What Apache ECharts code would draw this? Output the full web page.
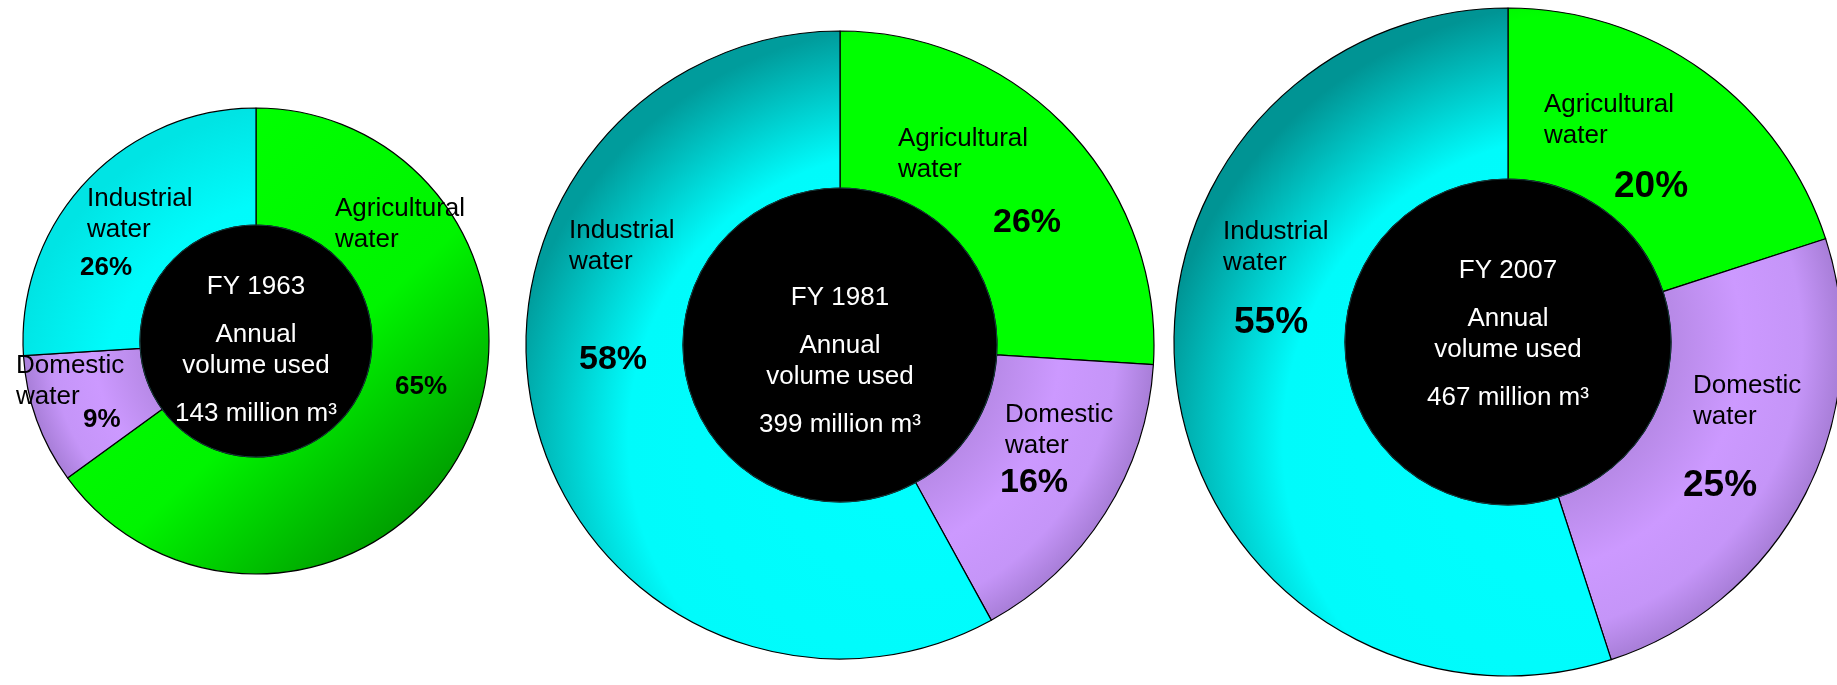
<!DOCTYPE html>
<html><head><meta charset="utf-8">
<script src="https://cdn.jsdelivr.net/npm/echarts@6/dist/echarts.min.js"></script>
<style>html,body{margin:0;padding:0;background:#fff}#c{width:1837px;height:685px}</style>
</head><body><div id="c"></div>
<script>
// ---- data ----
const categories = ['Agricultural water', 'Domestic water', 'Industrial water'];
const years = ['FY 1963', 'FY 1981', 'FY 2007'];
const volumes = [143, 399, 467]; // million m3
const share1963 = [65, 9, 26];
const share1981 = [26, 16, 58];
const share2007 = [20, 25, 55];
const shares = [share1963, share1981, share2007];

// ---- layout (positions / sizes only) ----
const layout = [
  { c: [256, 341], r: [116, 233], pctSize: 26, mid: 350,
    names: [[335, 224], [16, 381], [87, 214]], pcts: [[395, 387], [83, 420], [80, 268]],
    cyanDark: '#00e4e4', greenLinear: true },
  { c: [840, 345], r: [157, 314], pctSize: 34, mid: 361,
    names: [[898, 154], [1005, 430], [569, 246]], pcts: [[993, 223], [1000, 483], [579, 360]],
    cyanDark: '#009c9c', greenLinear: false },
  { c: [1508, 342], r: [163, 334], pctSize: 37, mid: 334,
    names: [[1544, 120], [1693, 401], [1223, 247]], pcts: [[1614, 187], [1683, 486], [1234, 323]],
    cyanDark: '#009494', greenLinear: false }
];

const FONT = '"Liberation Sans", Arial, sans-serif';

function colorsFor(L) {
  const [cx, cy] = L.c, R = L.r[1];
  const green = L.greenLinear
    ? { type: 'linear', global: true, x: cx - 0.3 * R, y: cy - 0.7 * R, x2: cx + R, y2: cy + 0.7 * R,
        colorStops: [{ offset: 0, color: '#00ff00' }, { offset: 0.5, color: '#00f400' }, { offset: 1, color: '#008a00' }] }
    : { type: 'radial', global: true, x: cx + 0.2 * R, y: cy - 0.1 * R, r: 1.1 * R,
        colorStops: [{ offset: 0, color: '#00ff00' }, { offset: 0.8, color: '#00ff00' }, { offset: 1, color: '#00d800' }] };
  const purple = { type: 'radial', global: true, x: cx, y: cy, r: R,
    colorStops: [{ offset: 0, color: '#a57ad8' }, { offset: 0.5, color: '#b88ae8' }, { offset: 0.7, color: '#cc99ff' },
                 { offset: 0.88, color: '#c595f8' }, { offset: 1, color: '#a87ed8' }] };
  const cyan = { type: 'radial', global: true, x: cx + 0.25 * R, y: cy + 0.3 * R, r: 1.32 * R,
    colorStops: [{ offset: 0, color: '#00ffff' }, { offset: 0.7, color: '#00fbfb' }, { offset: 1, color: L.cyanDark }] };
  return [green, purple, cyan];
}

const series = [];
layout.forEach((L, k) => {
  const cols = colorsFor(L);
  const data = categories.map((name, i) => ({ name, value: shares[k][i], itemStyle: { color: cols[i] } }));
  // ring with category names
  series.push({
    type: 'pie', center: L.c, radius: L.r, startAngle: 90, clockwise: true, silent: true,
    avoidLabelOverlap: false, animation: false,
    itemStyle: { borderColor: '#000', borderWidth: 1.2 },
    label: { show: true, position: 'inside', color: '#000', fontFamily: FONT, fontSize: 26, lineHeight: 31,
             formatter: p => p.name.replace(' ', '\n') },
    labelLine: { show: false },
    labelLayout: p => ({ x: L.names[p.dataIndex][0], y: L.names[p.dataIndex][1], align: 'left', verticalAlign: 'middle' }),
    data
  });
  // percentage labels (transparent overlay of the same data)
  series.push({
    type: 'pie', center: L.c, radius: L.r, startAngle: 90, clockwise: true, silent: true,
    avoidLabelOverlap: false, animation: false,
    itemStyle: { color: 'rgba(0,0,0,0)', borderWidth: 0 },
    label: { show: true, position: 'inside', color: '#000', fontFamily: FONT, fontWeight: 'bold', fontSize: L.pctSize,
             formatter: p => p.value + '%' },
    labelLine: { show: false },
    labelLayout: p => ({ x: L.pcts[p.dataIndex][0], y: L.pcts[p.dataIndex][1], align: 'left', verticalAlign: 'middle' }),
    data: categories.map((name, i) => ({ name, value: shares[k][i] }))
  });
  // black centre disc with the year / volume text
  series.push({
    type: 'pie', center: L.c, radius: [0, L.r[0]], silent: true, animation: false,
    itemStyle: { color: '#000', borderColor: '#163c3c', borderWidth: 1 },
    label: { show: true, position: 'center', fontFamily: FONT,
      formatter: () => '{y|' + years[k] + '}\n{m|Annual}\n{m|volume used}\n{v|' + volumes[k] + ' million m³}',
      rich: {
        y: { color: '#fff', fontFamily: FONT, fontSize: 26, lineHeight: 65 },
        m: { color: '#fff', fontFamily: FONT, fontSize: 26, lineHeight: 31 },
        v: { color: '#fff', fontFamily: FONT, fontSize: 26, lineHeight: 65 }
      } },
    labelLayout: () => ({ x: L.c[0], y: L.mid, align: 'center', verticalAlign: 'middle' }),
    labelLine: { show: false },
    data: [{ name: years[k], value: volumes[k] }]
  });
});

const chart = echarts.init(document.getElementById('c'), null, { renderer: 'canvas' });
chart.setOption({ backgroundColor: '#fff', animation: false, series });
</script></body></html>
